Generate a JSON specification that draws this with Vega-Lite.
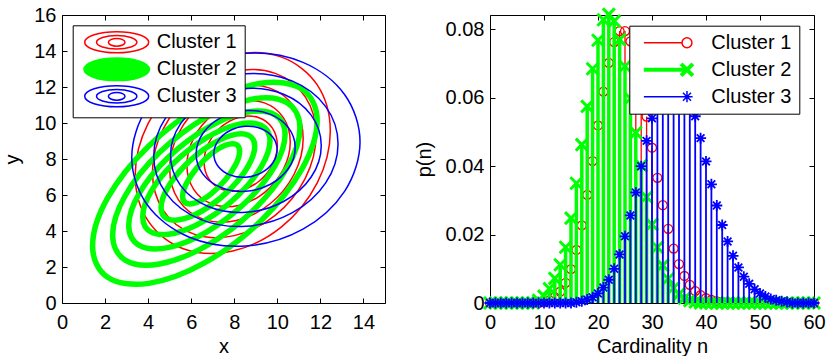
{
  "$schema": "https://vega.github.io/schema/vega-lite/v6.json",
  "background": "white",
  "padding": {"left": 2, "top": 2, "right": 0, "bottom": 0},
  "config": {
    "font": "Liberation Sans",
    "view": {"stroke": null},
    "axis": {
      "domainColor": "black", "domainWidth": 1, "tickColor": "black", "tickWidth": 1, "tickSize": -5,
      "grid": false, "labelFont": "Liberation Sans", "labelFontSize": 20, "labelColor": "black",
      "titleFont": "Liberation Sans", "titleFontSize": 20, "titleFontWeight": "normal", "titleColor": "black",
      "labelFlush": false, "labelOverlap": false, "labelBound": false
    },
    "axisBottom": {"labelPadding": 14, "titlePadding": 4},
    "axisLeft": {"labelPadding": 11, "titlePadding": 11},
    "legend": {"labelFont": "Liberation Sans", "labelFontSize": 20, "labelColor": "black"}
  },
  "datasets": {
    "contours": [
      {"c":"Cluster 1","k":"r1","i":0,"x":10.0,"y":8.76},{"c":"Cluster 1","k":"r1","i":1,"x":9.772,"y":9.718},{"c":"Cluster 1","k":"r1","i":2,"x":9.15,"y":10.296},{"c":"Cluster 1","k":"r1","i":3,"x":8.3,"y":10.339},{"c":"Cluster 1","k":"r1","i":4,"x":7.45,"y":9.836},{"c":"Cluster 1","k":"r1","i":5,"x":6.828,"y":8.922},{"c":"Cluster 1","k":"r1","i":6,"x":6.6,"y":7.84},{"c":"Cluster 1","k":"r1","i":7,"x":6.828,"y":6.882},{"c":"Cluster 1","k":"r1","i":8,"x":7.45,"y":6.304},{"c":"Cluster 1","k":"r1","i":9,"x":8.3,"y":6.261},{"c":"Cluster 1","k":"r1","i":10,"x":9.15,"y":6.764},{"c":"Cluster 1","k":"r1","i":11,"x":9.772,"y":7.678},
      {"c":"Cluster 1","k":"r2","i":0,"x":10.6,"y":8.949},{"c":"Cluster 1","k":"r2","i":1,"x":10.278,"y":10.301},{"c":"Cluster 1","k":"r2","i":2,"x":9.4,"y":11.117},{"c":"Cluster 1","k":"r2","i":3,"x":8.2,"y":11.178},{"c":"Cluster 1","k":"r2","i":4,"x":7.0,"y":10.468},{"c":"Cluster 1","k":"r2","i":5,"x":6.122,"y":9.177},{"c":"Cluster 1","k":"r2","i":6,"x":5.8,"y":7.651},{"c":"Cluster 1","k":"r2","i":7,"x":6.122,"y":6.299},{"c":"Cluster 1","k":"r2","i":8,"x":7.0,"y":5.483},{"c":"Cluster 1","k":"r2","i":9,"x":8.2,"y":5.422},{"c":"Cluster 1","k":"r2","i":10,"x":9.4,"y":6.132},{"c":"Cluster 1","k":"r2","i":11,"x":10.278,"y":7.423},
      {"c":"Cluster 1","k":"r3","i":0,"x":11.2,"y":9.138},{"c":"Cluster 1","k":"r3","i":1,"x":10.785,"y":10.884},{"c":"Cluster 1","k":"r3","i":2,"x":9.65,"y":11.938},{"c":"Cluster 1","k":"r3","i":3,"x":8.1,"y":12.017},{"c":"Cluster 1","k":"r3","i":4,"x":6.55,"y":11.1},{"c":"Cluster 1","k":"r3","i":5,"x":5.415,"y":9.432},{"c":"Cluster 1","k":"r3","i":6,"x":5.0,"y":7.462},{"c":"Cluster 1","k":"r3","i":7,"x":5.415,"y":5.716},{"c":"Cluster 1","k":"r3","i":8,"x":6.55,"y":4.662},{"c":"Cluster 1","k":"r3","i":9,"x":8.1,"y":4.583},{"c":"Cluster 1","k":"r3","i":10,"x":9.65,"y":5.5},{"c":"Cluster 1","k":"r3","i":11,"x":10.785,"y":7.168},
      {"c":"Cluster 1","k":"r4","i":0,"x":11.8,"y":9.327},{"c":"Cluster 1","k":"r4","i":1,"x":11.291,"y":11.467},{"c":"Cluster 1","k":"r4","i":2,"x":9.9,"y":12.759},{"c":"Cluster 1","k":"r4","i":3,"x":8.0,"y":12.856},{"c":"Cluster 1","k":"r4","i":4,"x":6.1,"y":11.732},{"c":"Cluster 1","k":"r4","i":5,"x":4.709,"y":9.689},{"c":"Cluster 1","k":"r4","i":6,"x":4.2,"y":7.273},{"c":"Cluster 1","k":"r4","i":7,"x":4.709,"y":5.133},{"c":"Cluster 1","k":"r4","i":8,"x":6.1,"y":3.841},{"c":"Cluster 1","k":"r4","i":9,"x":8.0,"y":3.744},{"c":"Cluster 1","k":"r4","i":10,"x":9.9,"y":4.868},{"c":"Cluster 1","k":"r4","i":11,"x":11.291,"y":6.911},
      {"c":"Cluster 1","k":"r5","i":0,"x":12.46,"y":9.558},{"c":"Cluster 1","k":"r5","i":1,"x":11.853,"y":12.115},{"c":"Cluster 1","k":"r5","i":2,"x":10.195,"y":13.658},{"c":"Cluster 1","k":"r5","i":3,"x":7.93,"y":13.773},{"c":"Cluster 1","k":"r5","i":4,"x":5.665,"y":12.43},{"c":"Cluster 1","k":"r5","i":5,"x":4.007,"y":9.989},{"c":"Cluster 1","k":"r5","i":6,"x":3.4,"y":7.102},{"c":"Cluster 1","k":"r5","i":7,"x":4.007,"y":4.545},{"c":"Cluster 1","k":"r5","i":8,"x":5.665,"y":3.002},{"c":"Cluster 1","k":"r5","i":9,"x":7.93,"y":2.887},{"c":"Cluster 1","k":"r5","i":10,"x":10.195,"y":4.23},{"c":"Cluster 1","k":"r5","i":11,"x":11.853,"y":6.671},
      {"c":"Cluster 2","k":"g1","i":0,"x":11.85,"y":10.134},{"c":"Cluster 2","k":"g1","i":1,"x":11.151,"y":11.872},{"c":"Cluster 2","k":"g1","i":2,"x":9.243,"y":12.21},{"c":"Cluster 2","k":"g1","i":3,"x":6.635,"y":11.059},{"c":"Cluster 2","k":"g1","i":4,"x":4.028,"y":8.726},{"c":"Cluster 2","k":"g1","i":5,"x":2.119,"y":5.837},{"c":"Cluster 2","k":"g1","i":6,"x":1.42,"y":3.166},{"c":"Cluster 2","k":"g1","i":7,"x":2.119,"y":1.428},{"c":"Cluster 2","k":"g1","i":8,"x":4.028,"y":1.09},{"c":"Cluster 2","k":"g1","i":9,"x":6.635,"y":2.241},{"c":"Cluster 2","k":"g1","i":10,"x":9.243,"y":4.574},{"c":"Cluster 2","k":"g1","i":11,"x":11.151,"y":7.463},
      {"c":"Cluster 2","k":"g2","i":0,"x":11.05,"y":9.726},{"c":"Cluster 2","k":"g2","i":1,"x":10.467,"y":11.114},{"c":"Cluster 2","k":"g2","i":2,"x":8.875,"y":11.332},{"c":"Cluster 2","k":"g2","i":3,"x":6.7,"y":10.323},{"c":"Cluster 2","k":"g2","i":4,"x":4.525,"y":8.356},{"c":"Cluster 2","k":"g2","i":5,"x":2.933,"y":5.959},{"c":"Cluster 2","k":"g2","i":6,"x":2.35,"y":3.774},{"c":"Cluster 2","k":"g2","i":7,"x":2.933,"y":2.386},{"c":"Cluster 2","k":"g2","i":8,"x":4.525,"y":2.168},{"c":"Cluster 2","k":"g2","i":9,"x":6.7,"y":3.177},{"c":"Cluster 2","k":"g2","i":10,"x":8.875,"y":5.144},{"c":"Cluster 2","k":"g2","i":11,"x":10.467,"y":7.541},
      {"c":"Cluster 2","k":"g3","i":0,"x":10.36,"y":9.366},{"c":"Cluster 2","k":"g3","i":1,"x":9.874,"y":10.467},{"c":"Cluster 2","k":"g3","i":2,"x":8.545,"y":10.595},{"c":"Cluster 2","k":"g3","i":3,"x":6.73,"y":9.716},{"c":"Cluster 2","k":"g3","i":4,"x":4.915,"y":8.064},{"c":"Cluster 2","k":"g3","i":5,"x":3.586,"y":6.084},{"c":"Cluster 2","k":"g3","i":6,"x":3.1,"y":4.304},{"c":"Cluster 2","k":"g3","i":7,"x":3.586,"y":3.203},{"c":"Cluster 2","k":"g3","i":8,"x":4.915,"y":3.075},{"c":"Cluster 2","k":"g3","i":9,"x":6.73,"y":3.954},{"c":"Cluster 2","k":"g3","i":10,"x":8.545,"y":5.606},{"c":"Cluster 2","k":"g3","i":11,"x":9.874,"y":7.586},
      {"c":"Cluster 2","k":"g4","i":0,"x":9.66,"y":9.008},{"c":"Cluster 2","k":"g4","i":1,"x":9.264,"y":9.862},{"c":"Cluster 2","k":"g4","i":2,"x":8.183,"y":9.922},{"c":"Cluster 2","k":"g4","i":3,"x":6.705,"y":9.173},{"c":"Cluster 2","k":"g4","i":4,"x":5.228,"y":7.814},{"c":"Cluster 2","k":"g4","i":5,"x":4.146,"y":6.211},{"c":"Cluster 2","k":"g4","i":6,"x":3.75,"y":4.792},{"c":"Cluster 2","k":"g4","i":7,"x":4.146,"y":3.938},{"c":"Cluster 2","k":"g4","i":8,"x":5.228,"y":3.878},{"c":"Cluster 2","k":"g4","i":9,"x":6.705,"y":4.627},{"c":"Cluster 2","k":"g4","i":10,"x":8.183,"y":5.986},{"c":"Cluster 2","k":"g4","i":11,"x":9.264,"y":7.589},
      {"c":"Cluster 2","k":"g5","i":0,"x":8.95,"y":8.704},{"c":"Cluster 2","k":"g5","i":1,"x":8.659,"y":9.321},{"c":"Cluster 2","k":"g5","i":2,"x":7.863,"y":9.316},{"c":"Cluster 2","k":"g5","i":3,"x":6.775,"y":8.69},{"c":"Cluster 2","k":"g5","i":4,"x":5.688,"y":7.612},{"c":"Cluster 2","k":"g5","i":5,"x":4.891,"y":6.369},{"c":"Cluster 2","k":"g5","i":6,"x":4.6,"y":5.296},{"c":"Cluster 2","k":"g5","i":7,"x":4.891,"y":4.679},{"c":"Cluster 2","k":"g5","i":8,"x":5.688,"y":4.684},{"c":"Cluster 2","k":"g5","i":9,"x":6.775,"y":5.31},{"c":"Cluster 2","k":"g5","i":10,"x":7.863,"y":6.388},{"c":"Cluster 2","k":"g5","i":11,"x":8.659,"y":7.631},
      {"c":"Cluster 2","k":"g6","i":0,"x":8.25,"y":8.431},{"c":"Cluster 2","k":"g6","i":1,"x":8.073,"y":8.817},{"c":"Cluster 2","k":"g6","i":2,"x":7.588,"y":8.763},{"c":"Cluster 2","k":"g6","i":3,"x":6.925,"y":8.283},{"c":"Cluster 2","k":"g6","i":4,"x":6.263,"y":7.507},{"c":"Cluster 2","k":"g6","i":5,"x":5.778,"y":6.641},{"c":"Cluster 2","k":"g6","i":6,"x":5.6,"y":5.919},{"c":"Cluster 2","k":"g6","i":7,"x":5.778,"y":5.533},{"c":"Cluster 2","k":"g6","i":8,"x":6.263,"y":5.587},{"c":"Cluster 2","k":"g6","i":9,"x":6.925,"y":6.067},{"c":"Cluster 2","k":"g6","i":10,"x":7.588,"y":6.843},{"c":"Cluster 2","k":"g6","i":11,"x":8.073,"y":7.709},
      {"c":"Cluster 3","k":"b1","i":0,"x":9.99,"y":8.514},{"c":"Cluster 3","k":"b1","i":1,"x":9.793,"y":9.206},{"c":"Cluster 3","k":"b1","i":2,"x":9.255,"y":9.683},{"c":"Cluster 3","k":"b1","i":3,"x":8.52,"y":9.816},{"c":"Cluster 3","k":"b1","i":4,"x":7.785,"y":9.569},{"c":"Cluster 3","k":"b1","i":5,"x":7.247,"y":9.009},{"c":"Cluster 3","k":"b1","i":6,"x":7.05,"y":8.286},{"c":"Cluster 3","k":"b1","i":7,"x":7.247,"y":7.594},{"c":"Cluster 3","k":"b1","i":8,"x":7.785,"y":7.117},{"c":"Cluster 3","k":"b1","i":9,"x":8.52,"y":6.984},{"c":"Cluster 3","k":"b1","i":10,"x":9.255,"y":7.231},{"c":"Cluster 3","k":"b1","i":11,"x":9.793,"y":7.791},
      {"c":"Cluster 3","k":"b2","i":0,"x":10.83,"y":8.63},{"c":"Cluster 3","k":"b2","i":1,"x":10.522,"y":9.727},{"c":"Cluster 3","k":"b2","i":2,"x":9.68,"y":10.482},{"c":"Cluster 3","k":"b2","i":3,"x":8.53,"y":10.693},{"c":"Cluster 3","k":"b2","i":4,"x":7.38,"y":10.302},{"c":"Cluster 3","k":"b2","i":5,"x":6.538,"y":9.416},{"c":"Cluster 3","k":"b2","i":6,"x":6.23,"y":8.27},{"c":"Cluster 3","k":"b2","i":7,"x":6.538,"y":7.173},{"c":"Cluster 3","k":"b2","i":8,"x":7.38,"y":6.418},{"c":"Cluster 3","k":"b2","i":9,"x":8.53,"y":6.207},{"c":"Cluster 3","k":"b2","i":10,"x":9.68,"y":6.598},{"c":"Cluster 3","k":"b2","i":11,"x":10.522,"y":7.484},
      {"c":"Cluster 3","k":"b3","i":0,"x":12.04,"y":8.756},{"c":"Cluster 3","k":"b3","i":1,"x":11.571,"y":10.439},{"c":"Cluster 3","k":"b3","i":2,"x":10.29,"y":11.596},{"c":"Cluster 3","k":"b3","i":3,"x":8.54,"y":11.919},{"c":"Cluster 3","k":"b3","i":4,"x":6.79,"y":11.32},{"c":"Cluster 3","k":"b3","i":5,"x":5.509,"y":9.961},{"c":"Cluster 3","k":"b3","i":6,"x":5.04,"y":8.204},{"c":"Cluster 3","k":"b3","i":7,"x":5.509,"y":6.521},{"c":"Cluster 3","k":"b3","i":8,"x":6.79,"y":5.364},{"c":"Cluster 3","k":"b3","i":9,"x":8.54,"y":5.041},{"c":"Cluster 3","k":"b3","i":10,"x":10.29,"y":5.64},{"c":"Cluster 3","k":"b3","i":11,"x":11.571,"y":6.999},
      {"c":"Cluster 3","k":"b4","i":0,"x":12.82,"y":8.84},{"c":"Cluster 3","k":"b4","i":1,"x":12.246,"y":10.912},{"c":"Cluster 3","k":"b4","i":2,"x":10.68,"y":12.338},{"c":"Cluster 3","k":"b4","i":3,"x":8.54,"y":12.736},{"c":"Cluster 3","k":"b4","i":4,"x":6.4,"y":11.998},{"c":"Cluster 3","k":"b4","i":5,"x":4.834,"y":10.324},{"c":"Cluster 3","k":"b4","i":6,"x":4.26,"y":8.16},{"c":"Cluster 3","k":"b4","i":7,"x":4.834,"y":6.088},{"c":"Cluster 3","k":"b4","i":8,"x":6.4,"y":4.662},{"c":"Cluster 3","k":"b4","i":9,"x":8.54,"y":4.264},{"c":"Cluster 3","k":"b4","i":10,"x":10.68,"y":5.002},{"c":"Cluster 3","k":"b4","i":11,"x":12.246,"y":6.676},
      {"c":"Cluster 3","k":"b5","i":0,"x":13.84,"y":8.95},{"c":"Cluster 3","k":"b5","i":1,"x":13.13,"y":11.569},{"c":"Cluster 3","k":"b5","i":2,"x":11.19,"y":13.371},{"c":"Cluster 3","k":"b5","i":3,"x":8.54,"y":13.873},{"c":"Cluster 3","k":"b5","i":4,"x":5.89,"y":12.941},{"c":"Cluster 3","k":"b5","i":5,"x":3.95,"y":10.825},{"c":"Cluster 3","k":"b5","i":6,"x":3.24,"y":8.09},{"c":"Cluster 3","k":"b5","i":7,"x":3.95,"y":5.471},{"c":"Cluster 3","k":"b5","i":8,"x":5.89,"y":3.669},{"c":"Cluster 3","k":"b5","i":9,"x":8.54,"y":3.167},{"c":"Cluster 3","k":"b5","i":10,"x":11.19,"y":4.099},{"c":"Cluster 3","k":"b5","i":11,"x":13.13,"y":6.215}
    ],
    "stems": [
      {"c":"Cluster 1","n":0,"p":0},{"c":"Cluster 1","n":1,"p":0},{"c":"Cluster 1","n":2,"p":0},{"c":"Cluster 1","n":3,"p":0},{"c":"Cluster 1","n":4,"p":0},{"c":"Cluster 1","n":5,"p":0},{"c":"Cluster 1","n":6,"p":0},{"c":"Cluster 1","n":7,"p":0},{"c":"Cluster 1","n":8,"p":0},{"c":"Cluster 1","n":9,"p":0},
      {"c":"Cluster 1","n":10,"p":0.0004},{"c":"Cluster 1","n":11,"p":0.0008},{"c":"Cluster 1","n":12,"p":0.0017},{"c":"Cluster 1","n":13,"p":0.0033},{"c":"Cluster 1","n":14,"p":0.0059},{"c":"Cluster 1","n":15,"p":0.0099},{"c":"Cluster 1","n":16,"p":0.0155},{"c":"Cluster 1","n":17,"p":0.0227},{"c":"Cluster 1","n":18,"p":0.0316},{"c":"Cluster 1","n":19,"p":0.0415},
      {"c":"Cluster 1","n":20,"p":0.0519},{"c":"Cluster 1","n":21,"p":0.0618},{"c":"Cluster 1","n":22,"p":0.0702},{"c":"Cluster 1","n":23,"p":0.0763},{"c":"Cluster 1","n":24,"p":0.0795},{"c":"Cluster 1","n":25,"p":0.0795},{"c":"Cluster 1","n":26,"p":0.0765},{"c":"Cluster 1","n":27,"p":0.0708},{"c":"Cluster 1","n":28,"p":0.0632},{"c":"Cluster 1","n":29,"p":0.0545},
      {"c":"Cluster 1","n":30,"p":0.0454},{"c":"Cluster 1","n":31,"p":0.0366},{"c":"Cluster 1","n":32,"p":0.0286},{"c":"Cluster 1","n":33,"p":0.0217},{"c":"Cluster 1","n":34,"p":0.0159},{"c":"Cluster 1","n":35,"p":0.0114},{"c":"Cluster 1","n":36,"p":0.0079},{"c":"Cluster 1","n":37,"p":0.0053},{"c":"Cluster 1","n":38,"p":0.0035},{"c":"Cluster 1","n":39,"p":0.0023},
      {"c":"Cluster 1","n":40,"p":0.0014},{"c":"Cluster 1","n":41,"p":0.0009},{"c":"Cluster 1","n":42,"p":0.0005},{"c":"Cluster 1","n":43,"p":0.0003},{"c":"Cluster 1","n":44,"p":0.0002},{"c":"Cluster 1","n":45,"p":0},{"c":"Cluster 1","n":46,"p":0},{"c":"Cluster 1","n":47,"p":0},{"c":"Cluster 1","n":48,"p":0},{"c":"Cluster 1","n":49,"p":0},
      {"c":"Cluster 1","n":50,"p":0},{"c":"Cluster 1","n":51,"p":0},{"c":"Cluster 1","n":52,"p":0},{"c":"Cluster 1","n":53,"p":0},{"c":"Cluster 1","n":54,"p":0},{"c":"Cluster 1","n":55,"p":0},{"c":"Cluster 1","n":56,"p":0},{"c":"Cluster 1","n":57,"p":0},{"c":"Cluster 1","n":58,"p":0},{"c":"Cluster 1","n":59,"p":0},{"c":"Cluster 1","n":60,"p":0},
      {"c":"Cluster 2","n":0,"p":0},{"c":"Cluster 2","n":1,"p":0},{"c":"Cluster 2","n":2,"p":0},{"c":"Cluster 2","n":3,"p":0},{"c":"Cluster 2","n":4,"p":0},{"c":"Cluster 2","n":5,"p":0},{"c":"Cluster 2","n":6,"p":0},{"c":"Cluster 2","n":7,"p":0},{"c":"Cluster 2","n":8,"p":0},{"c":"Cluster 2","n":9,"p":0.0008},
      {"c":"Cluster 2","n":10,"p":0.002},{"c":"Cluster 2","n":11,"p":0.0042},{"c":"Cluster 2","n":12,"p":0.0072},{"c":"Cluster 2","n":13,"p":0.0112},{"c":"Cluster 2","n":14,"p":0.0163},{"c":"Cluster 2","n":15,"p":0.0248},{"c":"Cluster 2","n":16,"p":0.035},{"c":"Cluster 2","n":17,"p":0.0463},{"c":"Cluster 2","n":18,"p":0.0575},{"c":"Cluster 2","n":19,"p":0.0685},
      {"c":"Cluster 2","n":20,"p":0.0768},{"c":"Cluster 2","n":21,"p":0.0828},{"c":"Cluster 2","n":22,"p":0.0844},{"c":"Cluster 2","n":23,"p":0.0824},{"c":"Cluster 2","n":24,"p":0.077},{"c":"Cluster 2","n":25,"p":0.0692},{"c":"Cluster 2","n":26,"p":0.0598},{"c":"Cluster 2","n":27,"p":0.0498},{"c":"Cluster 2","n":28,"p":0.0402},{"c":"Cluster 2","n":29,"p":0.031},
      {"c":"Cluster 2","n":30,"p":0.023},{"c":"Cluster 2","n":31,"p":0.0163},{"c":"Cluster 2","n":32,"p":0.011},{"c":"Cluster 2","n":33,"p":0.0071},{"c":"Cluster 2","n":34,"p":0.0044},{"c":"Cluster 2","n":35,"p":0.0026},{"c":"Cluster 2","n":36,"p":0.0014},{"c":"Cluster 2","n":37,"p":0.0007},{"c":"Cluster 2","n":38,"p":0.0003},{"c":"Cluster 2","n":39,"p":0},
      {"c":"Cluster 2","n":40,"p":0},{"c":"Cluster 2","n":41,"p":0},{"c":"Cluster 2","n":42,"p":0},{"c":"Cluster 2","n":43,"p":0},{"c":"Cluster 2","n":44,"p":0},{"c":"Cluster 2","n":45,"p":0},{"c":"Cluster 2","n":46,"p":0},{"c":"Cluster 2","n":47,"p":0},{"c":"Cluster 2","n":48,"p":0},{"c":"Cluster 2","n":49,"p":0},
      {"c":"Cluster 2","n":50,"p":0},{"c":"Cluster 2","n":51,"p":0},{"c":"Cluster 2","n":52,"p":0},{"c":"Cluster 2","n":53,"p":0},{"c":"Cluster 2","n":54,"p":0},{"c":"Cluster 2","n":55,"p":0},{"c":"Cluster 2","n":56,"p":0},{"c":"Cluster 2","n":57,"p":0},{"c":"Cluster 2","n":58,"p":0},{"c":"Cluster 2","n":59,"p":0},{"c":"Cluster 2","n":60,"p":0},
      {"c":"Cluster 3","n":0,"p":0},{"c":"Cluster 3","n":1,"p":0},{"c":"Cluster 3","n":2,"p":0},{"c":"Cluster 3","n":3,"p":0},{"c":"Cluster 3","n":4,"p":0},{"c":"Cluster 3","n":5,"p":0},{"c":"Cluster 3","n":6,"p":0},{"c":"Cluster 3","n":7,"p":0},{"c":"Cluster 3","n":8,"p":0},{"c":"Cluster 3","n":9,"p":0},
      {"c":"Cluster 3","n":10,"p":0},{"c":"Cluster 3","n":11,"p":0},{"c":"Cluster 3","n":12,"p":0},{"c":"Cluster 3","n":13,"p":0},{"c":"Cluster 3","n":14,"p":0},{"c":"Cluster 3","n":15,"p":0},{"c":"Cluster 3","n":16,"p":0.0002},{"c":"Cluster 3","n":17,"p":0.0005},{"c":"Cluster 3","n":18,"p":0.001},{"c":"Cluster 3","n":19,"p":0.0017},
      {"c":"Cluster 3","n":20,"p":0.0028},{"c":"Cluster 3","n":21,"p":0.0045},{"c":"Cluster 3","n":22,"p":0.0068},{"c":"Cluster 3","n":23,"p":0.01},{"c":"Cluster 3","n":24,"p":0.0142},{"c":"Cluster 3","n":25,"p":0.0195},{"c":"Cluster 3","n":26,"p":0.0256},{"c":"Cluster 3","n":27,"p":0.0323},{"c":"Cluster 3","n":28,"p":0.04},{"c":"Cluster 3","n":29,"p":0.0474},
      {"c":"Cluster 3","n":30,"p":0.054},{"c":"Cluster 3","n":31,"p":0.0597},{"c":"Cluster 3","n":32,"p":0.064},{"c":"Cluster 3","n":33,"p":0.0667},{"c":"Cluster 3","n":34,"p":0.0675},{"c":"Cluster 3","n":35,"p":0.0665},{"c":"Cluster 3","n":36,"p":0.0638},{"c":"Cluster 3","n":37,"p":0.0597},{"c":"Cluster 3","n":38,"p":0.0546},{"c":"Cluster 3","n":39,"p":0.0482},
      {"c":"Cluster 3","n":40,"p":0.0414},{"c":"Cluster 3","n":41,"p":0.0347},{"c":"Cluster 3","n":42,"p":0.0285},{"c":"Cluster 3","n":43,"p":0.0228},{"c":"Cluster 3","n":44,"p":0.018},{"c":"Cluster 3","n":45,"p":0.0138},{"c":"Cluster 3","n":46,"p":0.0104},{"c":"Cluster 3","n":47,"p":0.0077},{"c":"Cluster 3","n":48,"p":0.0056},{"c":"Cluster 3","n":49,"p":0.004},
      {"c":"Cluster 3","n":50,"p":0.0028},{"c":"Cluster 3","n":51,"p":0.0019},{"c":"Cluster 3","n":52,"p":0.0012},{"c":"Cluster 3","n":53,"p":0.0008},{"c":"Cluster 3","n":54,"p":0.0005},{"c":"Cluster 3","n":55,"p":0.0003},{"c":"Cluster 3","n":56,"p":0},{"c":"Cluster 3","n":57,"p":0},{"c":"Cluster 3","n":58,"p":0},{"c":"Cluster 3","n":59,"p":0},{"c":"Cluster 3","n":60,"p":0}
    ]
  },
  "spacing": 28,
  "resolve": {"scale": {"color": "independent"}, "legend": {"color": "independent"}},
  "hconcat": [
    {
      "width": 323,
      "height": 288,
      "data": {"name": "contours"},
      "resolve": {"axis": {"x": "independent", "y": "independent"}},
      "layer": [
        {
          "transform": [{"filter": "datum.c === 'Cluster 1'"}],
          "mark": {"type": "line", "interpolate": "cardinal-closed", "strokeWidth": 1.5},
          "encoding": {
            "x": {"field": "x", "type": "quantitative", "scale": {"domain": [0, 15], "nice": false, "zero": false},
                  "axis": {"orient": "bottom", "values": [0, 2, 4, 6, 8, 10, 12, 14], "title": "x"}},
            "y": {"field": "y", "type": "quantitative", "scale": {"domain": [0, 16], "nice": false, "zero": false},
                  "axis": {"orient": "left", "values": [0, 2, 4, 6, 8, 10, 12, 14, 16], "title": "y"}},
            "detail": {"field": "k", "type": "nominal"},
            "order": {"field": "i", "type": "quantitative"},
            "color": {"field": "c", "type": "nominal",
                      "scale": {"domain": ["Cluster 1", "Cluster 2", "Cluster 3"], "range": ["#ff0000", "#00ff00", "#0000ff"]},
                      "legend": {
                        "title": null, "orient": "none", "legendX": 10.7, "legendY": 10.3,
                        "symbolType": "M-1,0A1,0.33,0,1,0,1,0A1,0.33,0,1,0,-1,0ZM-0.63,0A0.63,0.21,0,1,0,0.63,0A0.63,0.21,0,1,0,-0.63,0ZM-0.26,0A0.26,0.12,0,1,0,0.26,0A0.26,0.12,0,1,0,-0.26,0Z",
                        "symbolSize": 4096, "symbolStrokeWidth": 1.5, "symbolOffset": 27, "labelOffset": 30,
                        "padding": 7, "rowPadding": -4, "strokeColor": "black", "fillColor": "white",
                        "encode": {"symbols": {"update": {
                          "strokeWidth": {"signal": "datum.value === 'Cluster 2' ? 3 : 1.5"},
                          "fill": {"signal": "datum.value === 'Cluster 2' ? '#00ff00' : 'transparent'"}}}}
                      }}
          }
        },
        {
          "transform": [{"filter": "datum.c === 'Cluster 2'"}],
          "mark": {"type": "line", "interpolate": "cardinal-closed", "strokeWidth": 5.5},
          "encoding": {
            "x": {"field": "x", "type": "quantitative", "scale": {"domain": [0, 15], "nice": false, "zero": false}, "axis": null},
            "y": {"field": "y", "type": "quantitative", "scale": {"domain": [0, 16], "nice": false, "zero": false}, "axis": null},
            "detail": {"field": "k", "type": "nominal"},
            "order": {"field": "i", "type": "quantitative"},
            "color": {"field": "c", "type": "nominal",
                      "scale": {"domain": ["Cluster 1", "Cluster 2", "Cluster 3"], "range": ["#ff0000", "#00ff00", "#0000ff"]}}
          }
        },
        {
          "transform": [{"filter": "datum.c === 'Cluster 3'"}],
          "mark": {"type": "line", "interpolate": "cardinal-closed", "strokeWidth": 1.5},
          "encoding": {
            "x": {"field": "x", "type": "quantitative", "scale": {"domain": [0, 15], "nice": false, "zero": false},
                  "axis": {"orient": "top", "values": [0, 2, 4, 6, 8, 10, 12, 14], "labels": false, "title": null}},
            "y": {"field": "y", "type": "quantitative", "scale": {"domain": [0, 16], "nice": false, "zero": false},
                  "axis": {"orient": "right", "values": [0, 2, 4, 6, 8, 10, 12, 14, 16], "labels": false, "title": null}},
            "detail": {"field": "k", "type": "nominal"},
            "order": {"field": "i", "type": "quantitative"},
            "color": {"field": "c", "type": "nominal",
                      "scale": {"domain": ["Cluster 1", "Cluster 2", "Cluster 3"], "range": ["#ff0000", "#00ff00", "#0000ff"]}}
          }
        }
      ]
    },
    {
      "width": 324,
      "height": 288,
      "data": {"name": "stems"},
      "resolve": {"axis": {"x": "independent", "y": "independent"}},
      "layer": [
        {
          "transform": [{"filter": "datum.c === 'Cluster 1'"}],
          "mark": {"type": "rule", "strokeWidth": 1.3},
          "encoding": {
            "x": {"field": "n", "type": "quantitative", "scale": {"domain": [0, 60], "nice": false, "zero": false},
                  "axis": {"orient": "bottom", "values": [0, 10, 20, 30, 40, 50, 60], "title": "Cardinality n"}},
            "y": {"field": "p", "type": "quantitative", "scale": {"domain": [0, 0.0842], "nice": false, "zero": false},
                  "axis": {"orient": "left", "values": [0, 0.02, 0.04, 0.06, 0.08], "format": "~g", "title": "p(n)"}},
            "y2": {"datum": 0},
            "color": {"field": "c", "type": "nominal",
                      "scale": {"domain": ["Cluster 1", "Cluster 2", "Cluster 3"], "range": ["#ff0000", "#00ff00", "#0000ff"]},
                      "legend": {
                        "title": null, "orient": "none", "legendX": 139.3, "legendY": 10.7,
                        "symbolSize": 3844, "symbolStrokeWidth": 1.5, "symbolOffset": 23, "labelOffset": 32,
                        "padding": 7, "rowPadding": 3, "strokeColor": "black", "fillColor": "white",
                        "encode": {"symbols": {"update": {
                          "shape": {"signal": "datum.value === 'Cluster 1' ? 'M-0.82,0L0.41,0M0.73,0A0.16,0.16,0,1,0,0.41,0A0.16,0.16,0,1,0,0.73,0Z' : datum.value === 'Cluster 2' ? 'M-0.82,0L0.57,0M0.38,-0.19L0.76,0.19M0.38,0.19L0.76,-0.19' : 'M-0.82,0L0.75,0M0.57,-0.18L0.57,0.18M0.44,-0.13L0.7,0.13M0.44,0.13L0.7,-0.13'"},
                          "strokeWidth": {"signal": "datum.value === 'Cluster 2' ? 4 : 1.5"},
                          "fill": {"value": "transparent"}}}}
                      }}
          }
        },
        {
          "transform": [{"filter": "datum.c === 'Cluster 1'"}],
          "mark": {"type": "point", "shape": "circle", "filled": false, "size": 80, "strokeWidth": 1.3, "opacity": 1},
          "encoding": {
            "x": {"field": "n", "type": "quantitative", "scale": {"domain": [0, 60], "nice": false, "zero": false}, "axis": null},
            "y": {"field": "p", "type": "quantitative", "scale": {"domain": [0, 0.0842], "nice": false, "zero": false}, "axis": null},
            "color": {"field": "c", "type": "nominal",
                      "scale": {"domain": ["Cluster 1", "Cluster 2", "Cluster 3"], "range": ["#ff0000", "#00ff00", "#0000ff"]}}
          }
        },
        {
          "transform": [{"filter": "datum.c === 'Cluster 2'"}],
          "mark": {"type": "rule", "strokeWidth": 3.5},
          "encoding": {
            "x": {"field": "n", "type": "quantitative", "scale": {"domain": [0, 60], "nice": false, "zero": false}, "axis": null},
            "y": {"field": "p", "type": "quantitative", "scale": {"domain": [0, 0.0842], "nice": false, "zero": false}, "axis": null},
            "y2": {"datum": 0},
            "color": {"field": "c", "type": "nominal",
                      "scale": {"domain": ["Cluster 1", "Cluster 2", "Cluster 3"], "range": ["#ff0000", "#00ff00", "#0000ff"]}}
          }
        },
        {
          "transform": [{"filter": "datum.c === 'Cluster 2'"}],
          "mark": {"type": "point", "shape": "M-1,-1L1,1M-1,1L1,-1", "filled": false, "size": 144, "strokeWidth": 3, "opacity": 1},
          "encoding": {
            "x": {"field": "n", "type": "quantitative", "scale": {"domain": [0, 60], "nice": false, "zero": false}, "axis": null},
            "y": {"field": "p", "type": "quantitative", "scale": {"domain": [0, 0.0842], "nice": false, "zero": false}, "axis": null},
            "color": {"field": "c", "type": "nominal",
                      "scale": {"domain": ["Cluster 1", "Cluster 2", "Cluster 3"], "range": ["#ff0000", "#00ff00", "#0000ff"]}}
          }
        },
        {
          "transform": [{"filter": "datum.c === 'Cluster 3'"}],
          "mark": {"type": "rule", "strokeWidth": 1.8},
          "encoding": {
            "x": {"field": "n", "type": "quantitative", "scale": {"domain": [0, 60], "nice": false, "zero": false}, "axis": null},
            "y": {"field": "p", "type": "quantitative", "scale": {"domain": [0, 0.0842], "nice": false, "zero": false}, "axis": null},
            "y2": {"datum": 0},
            "color": {"field": "c", "type": "nominal",
                      "scale": {"domain": ["Cluster 1", "Cluster 2", "Cluster 3"], "range": ["#ff0000", "#00ff00", "#0000ff"]}}
          }
        },
        {
          "transform": [{"filter": "datum.c === 'Cluster 3'"}],
          "mark": {"type": "point", "shape": "M-1,0L1,0M0,-1L0,1M-0.7,-0.7L0.7,0.7M-0.7,0.7L0.7,-0.7", "filled": false, "size": 121, "strokeWidth": 1.8, "opacity": 1},
          "encoding": {
            "x": {"field": "n", "type": "quantitative", "scale": {"domain": [0, 60], "nice": false, "zero": false},
                  "axis": {"orient": "top", "values": [0, 10, 20, 30, 40, 50, 60], "labels": false, "title": null}},
            "y": {"field": "p", "type": "quantitative", "scale": {"domain": [0, 0.0842], "nice": false, "zero": false},
                  "axis": {"orient": "right", "values": [0, 0.02, 0.04, 0.06, 0.08], "labels": false, "title": null}},
            "color": {"field": "c", "type": "nominal",
                      "scale": {"domain": ["Cluster 1", "Cluster 2", "Cluster 3"], "range": ["#ff0000", "#00ff00", "#0000ff"]}}
          }
        }
      ]
    }
  ]
}
